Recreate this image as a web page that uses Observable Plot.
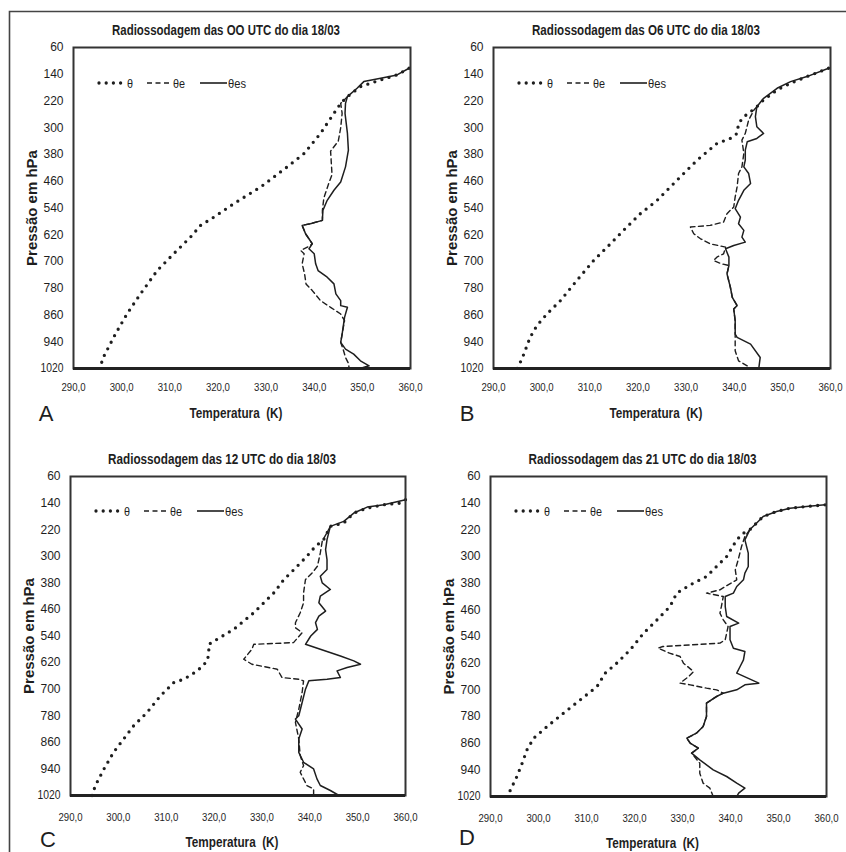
<!DOCTYPE html>
<html><head><meta charset="utf-8">
<script src="https://cdn.jsdelivr.net/npm/d3@7"></script>
<script src="https://cdn.jsdelivr.net/npm/@observablehq/plot@0.6"></script>
<style>
body{margin:0;background:#fff}
#wrap{position:relative;width:846px;height:852px;overflow:hidden;background:#fff}
#wrap svg{position:absolute}
</style></head><body><div id="wrap"></div>
<script>
// ---- data: [temperature K, pressure hPa] ----
const titles = ["Radiossodagem das OO UTC do dia 18/03","Radiossodagem das O6 UTC do dia 18/03","Radiossodagem das 12 UTC do dia 18/03","Radiossodagem das 21 UTC do dia 18/03"];
const letters = ["A","B","C","D"];
const xTicks = [290,300,310,320,330,340,350,360];
const yTicks = [60,140,220,300,380,460,540,620,700,780,860,940,1020];
const seriesNames = ["θ","θe","θes"];
const xLabel = "Temperatura  (K)";
const yLabel = "Pressão em hPa";

const thetaA = [[359.7,122],[357.2,142],[353.8,157],[349.6,177],[346.9,207],[345.5,227],[344.1,257],[341.3,317],[337.9,377],[334.4,417],[328.9,477],[323.3,527],[319.2,567],[316.4,592],[314.3,627],[310.8,677],[307.4,727],[303.9,797],[301.1,857],[298.7,917],[296,992],[295.6,1020]];
const thetaEsA = [[359.7,122],[357.2,142],[353.8,152],[350.3,162],[348.9,182],[346.9,207],[346.5,227],[346.4,257],[346.9,317],[347.1,367],[346.5,417],[345.5,462],[344.1,487],[342.7,517],[341.8,547],[341.7,577],[339.2,587],[337.5,592],[338.2,617],[339.6,647],[338.9,662],[340,677],[340.3,707],[340.8,727],[342.7,747],[344.1,767],[344.5,797],[345.5,817],[345.5,832],[346.9,837],[346.3,867],[345.8,917],[345.5,942],[346.5,962],[348.2,977],[349.6,997],[351.4,1012],[349.5,1020]];
const thetaEA = [[346.9,207],[345.5,227],[345.8,257],[345.5,300],[345,340],[343.4,370],[343.7,440],[343,467],[342,510],[341.7,547],[341.7,577],[339.2,587],[337.5,592],[338.2,617],[339.6,647],[338.9,655],[337.2,667],[337.9,677],[337.5,707],[338,737],[338.3,767],[339.6,787],[341.3,817],[343.4,837],[345.5,857],[346.3,877],[345.8,917],[345.5,942],[346,962],[346.5,987],[347.2,1007],[347.2,1020]];

const thetaB = [[359.6,122],[355.1,147],[351.7,167],[348.9,187],[346.1,217],[344.7,237],[343.4,252],[342,267],[340.9,287],[340.6,317],[339.2,332],[336.4,347],[332.3,397],[328.1,457],[324,517],[320.5,557],[317,607],[314.3,647],[310.8,697],[307.3,757],[303.9,817],[301.1,857],[299,892],[297.6,927],[295.9,992],[294.9,1020]];
const thetaEsB = [[359.6,122],[355.1,147],[351.7,162],[348.9,182],[346.1,212],[344.7,237],[344.4,267],[344.7,297],[346.1,317],[344.7,332],[342.7,342],[342.3,367],[342.3,397],[342,417],[343,437],[343.4,467],[342,487],[340.9,517],[340.2,542],[341.3,567],[340.9,587],[342,607],[341.6,627],[342.3,642],[339.9,652],[338.2,662],[338.9,687],[338.9,712],[338.5,737],[339.2,777],[339.6,807],[340.6,832],[339.9,842],[340.2,877],[340.2,917],[340.6,927],[343.4,947],[345.4,987],[345.1,1020]];
const thetaEB = [[344.7,237],[344.1,247],[343,277],[342.3,317],[341.6,337],[342,377],[341.6,417],[340.9,437],[340.6,477],[340.2,507],[339.9,537],[338.5,557],[337.8,582],[335,592],[330.9,597],[331.6,617],[333,632],[335,647],[338.2,657],[337.8,677],[336.4,687],[335.7,697],[337.4,707],[338.9,712],[338.5,737],[339.2,777],[339.6,807],[340.6,832],[339.9,842],[340.2,877],[340.2,917],[340.2,947],[340.2,967],[340.9,997],[342.7,1012],[343,1020]];

const thetaC = [[360,130],[359,140],[355.5,145],[352,155],[349.2,170],[347.1,200],[344.3,210],[342.9,250],[341.2,270],[339.4,300],[336.7,340],[334.6,370],[332.5,410],[328.3,470],[324.1,520],[320.6,550],[318.9,565],[318.9,590],[318.6,615],[316.5,645],[313.7,670],[311.6,680],[308.8,720],[306,770],[303.2,810],[301.1,850],[299,890],[297,940],[295.2,990],[294.5,1020]];
const thetaEsC = [[360,130],[355.5,145],[352,152],[349.2,170],[347.1,195],[344.3,210],[343.6,250],[343.3,280],[343.6,310],[343.6,340],[342.2,360],[342.6,380],[344.3,400],[342.2,420],[341.9,440],[343.3,465],[341.9,480],[341.2,500],[341.6,520],[340.2,540],[339.1,565],[342.2,580],[346.4,600],[349.2,615],[350.6,625],[347.8,635],[345.7,645],[346.4,665],[343.6,670],[339.8,675],[339.1,700],[338.4,740],[337.7,780],[337,790],[338.4,820],[337.7,850],[337.7,890],[338.7,920],[340.8,940],[341.5,970],[342.2,990],[344.3,1005],[346.1,1020]];
const thetaEC = [[344.3,210],[342.6,255],[342.2,290],[341.6,330],[340.5,350],[339.1,370],[338.7,410],[338.7,440],[338,470],[337,500],[337,515],[338.4,530],[336.6,560],[328.3,565],[327.9,580],[326.2,610],[327.9,625],[333.2,640],[334.2,665],[337.7,670],[338.7,675],[338.4,710],[337.7,760],[337,800],[337.7,850],[338,900],[338.7,930],[338,950],[339.4,990],[340.8,1000],[340.8,1020]];

const thetaD = [[359.7,145],[355.8,150],[352.4,155],[349.6,165],[346.8,180],[345.4,200],[344,220],[342.7,230],[341.3,250],[339.2,300],[337.1,330],[335,360],[331.6,385],[328.8,410],[327.4,450],[324.7,490],[321.9,530],[319.1,580],[316.3,620],[313.9,650],[312.2,690],[308.7,730],[305.2,770],[301.8,810],[299,845],[297.6,880],[296.6,920],[295.5,960],[294.5,990],[293.5,1020]];
const thetaEsD = [[359.7,145],[355.8,150],[352.4,155],[349.6,165],[346.8,180],[345.4,200],[344,220],[343,250],[343.7,290],[343.7,330],[343,350],[342.7,370],[341.3,390],[340.6,410],[338.9,420],[338.9,450],[339.2,480],[341.7,500],[339.9,510],[339.9,550],[340.6,575],[343,585],[342.7,610],[342,630],[341.3,650],[345.9,680],[343,685],[341.3,700],[338.5,710],[337.1,720],[335,740],[335,780],[334.3,810],[332.9,830],[330.9,845],[331.6,860],[333.3,875],[331.9,890],[333.6,910],[336.4,940],[339.2,960],[341.3,980],[343,995],[341.7,1010],[341.3,1020]];
const thetaED = [[344,220],[343,240],[342.3,270],[341.6,310],[341,340],[341.3,370],[338.9,390],[337.8,400],[335,410],[338.5,420],[338.1,450],[337.8,470],[338.5,490],[339.5,510],[338.9,550],[337.8,560],[325.9,570],[324.9,575],[327.3,590],[329.5,600],[330.2,620],[332.3,645],[331.3,660],[329.5,680],[331.6,685],[335,695],[337.1,700],[338.5,710],[337.1,720],[335,740],[335,780],[334.3,810],[332.9,830],[330.9,845],[331.6,860],[333.3,875],[331.9,890],[333.6,920],[333.6,950],[334.3,980],[335.7,995],[336.4,1020]];

// ---- layout (frame boxes) ----
const panels = [
  {x0:73, x1:410, y0:47, y1:368, tp:14, xl:45, theta:thetaA, te:thetaEA, tes:thetaEsA},
  {x0:493,x1:830, y0:47, y1:368, tp:14, xl:45, theta:thetaB, te:thetaEB, tes:thetaEsB},
  {x0:70, x1:405, y0:476,y1:795, tp:17, xl:47, theta:thetaC, te:thetaEC, tes:thetaEsC},
  {x0:490,x1:826, y0:476,y1:796, tp:17, xl:47, theta:thetaD, te:thetaED, tes:thetaEsD}
];
const FONT = "'Liberation Sans',Arial,sans-serif";
const INK = "#1e1e1e";
const fmtX = d => d.toFixed(1).replace(".", ",");
const fmtY = d => String(d);
const wrap = document.getElementById("wrap");

// condense a text (Calibri-like proportions) while keeping it real text
function condense(svg, str, len) {
  d3.select(svg).selectAll("text").filter(function() { return this.textContent === str; })
    .attr("textLength", len).attr("lengthAdjust", "spacingAndGlyphs");
}

panels.forEach((p, i) => {
  const W = 423, H = 421, mL = 70, mT = 45;
  const mR = W - mL - (p.x1 - p.x0), mB = H - mT - (p.y1 - p.y0);
  const X = d => d[0], Y = d => d[1];
  const svg = Plot.plot({
    width: W, height: H, marginLeft: mL, marginTop: mT, marginRight: mR, marginBottom: mB,
    style: {fontFamily: FONT, fontSize: "12px", color: INK, background: "transparent", overflow: "visible"},
    x: {domain: [290, 360]},
    y: {domain: [60, 1020], reverse: true},
    marks: [
      Plot.axisX({ticks: xTicks, tickFormat: fmtX, tickSize: 0, tickPadding: p.tp, label: null, fontSize: 11.5}),
      Plot.axisY({ticks: yTicks, tickFormat: fmtY, tickSize: 0, tickPadding: 10, label: null, fontSize: 12}),
      Plot.line(p.tes, {x: X, y: Y, stroke: INK, strokeWidth: 1.5}),
      Plot.line(p.te, {x: X, y: Y, stroke: INK, strokeWidth: 1.4, strokeDasharray: "5,3.5"}),
      Plot.line(p.theta, {x: X, y: Y, stroke: INK, strokeWidth: 3.3, strokeDasharray: "0,7.4", strokeLinecap: "round"}),
      Plot.frame({stroke: "#333", strokeWidth: 2}),
      Plot.ruleY([1020], {stroke: "#222", strokeWidth: 3}),
      Plot.text([titles[i]], {frameAnchor: "top", lineAnchor: "middle", textAnchor: "middle", dy: -17, dx: -16, fontWeight: "bold", fontSize: 14, fill: INK}),
      Plot.text([xLabel], {frameAnchor: "bottom", lineAnchor: "middle", textAnchor: "middle", dy: p.xl, dx: -6, fontWeight: "bold", fontSize: 14, fill: INK}),
      Plot.text([yLabel], {frameAnchor: "left", lineAnchor: "middle", textAnchor: "middle", dx: -41, rotate: -90, fontWeight: "bold", fontSize: 15, fill: INK})
    ]
  });
  condense(svg, titles[i], 228);
  condense(svg, xLabel, 93);
  xTicks.forEach(t => condense(svg, fmtX(t), 24));
  condense(svg, "1020", 23);
  svg.style.left = (p.x0 - mL) + "px";
  svg.style.top = (p.y0 - mT) + "px";
  wrap.appendChild(svg);
});

// ---- overlay: outer border, panel letters, legends ----
const ov = d3.select(wrap).append("svg").attr("width", 846).attr("height", 852)
  .style("left", "0px").style("top", "0px").style("pointer-events", "none");
ov.append("path").attr("d", "M9.5,852 V11.5 H846").attr("fill", "none").attr("stroke", "#444").attr("stroke-width", 1.6);
const letterPos = [[46,421],[467,421],[48,847],[467,845]];
letters.forEach((l, i) => ov.append("text").attr("x", letterPos[i][0]).attr("y", letterPos[i][1])
  .attr("text-anchor", "middle").attr("font-family", FONT).attr("font-size", 22).attr("fill", INK).text(l));
panels.forEach(p => {
  const g = ov.append("g").attr("transform", `translate(${p.x0},${p.y0 + (p.y0 > 400 ? 35 : 36)})`);
  g.append("line").attr("x1", 26).attr("x2", 48).attr("stroke", INK).attr("stroke-width", 3.3).attr("stroke-dasharray", "0,7.2").attr("stroke-linecap", "round");
  g.append("line").attr("x1", 74).attr("x2", 99).attr("stroke", INK).attr("stroke-width", 1.4).attr("stroke-dasharray", "5,3.5");
  g.append("line").attr("x1", 127).attr("x2", 154).attr("stroke", INK).attr("stroke-width", 1.6);
  [[54, seriesNames[0], 6], [100, seriesNames[1], 12], [155, seriesNames[2], 18]].forEach(([x, t, w]) =>
    g.append("text").attr("x", x).attr("y", 4.5).attr("font-family", FONT).attr("font-size", 12.5).attr("fill", INK)
      .attr("textLength", w).attr("lengthAdjust", "spacingAndGlyphs").text(t));
});
</script></body></html>
